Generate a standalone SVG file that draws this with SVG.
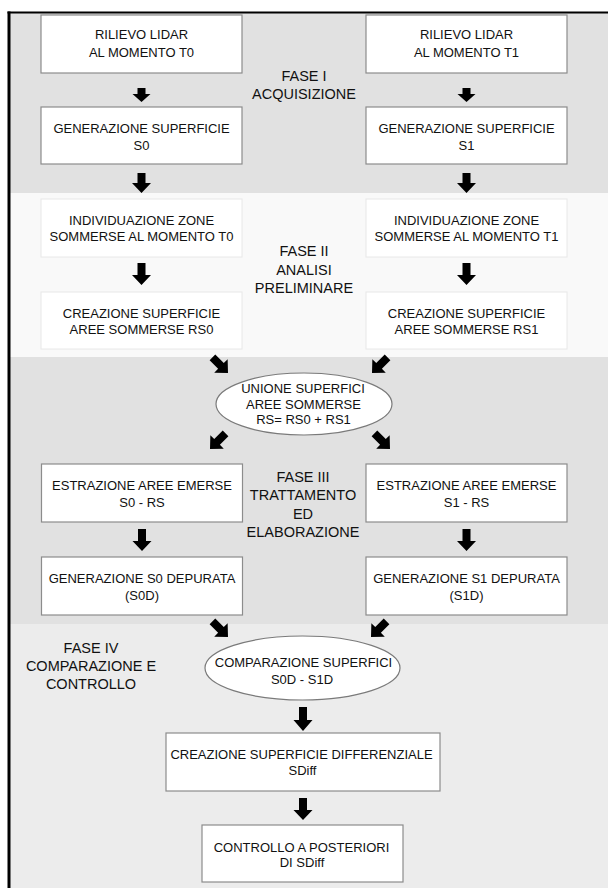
<svg xmlns="http://www.w3.org/2000/svg" width="608" height="888" viewBox="0 0 608 888">
<style>
.box{fill:#fff;stroke:#8c8c8c;stroke-width:1.2}
.boxl{fill:#fff;stroke:#e8e8e8;stroke-width:1}
.ell{fill:#fff;stroke:#7a7a7a;stroke-width:1.2}
text{font-family:"Liberation Sans",Arial,Helvetica,sans-serif;font-size:13px;fill:#111;text-anchor:middle}
.ph{font-size:14.5px}
.arr{fill:#000}
</style>
<defs>
<path id="ad" d="M-4,-22H4V-10H9.5L0,0L-9.5,-10H-4Z"/>
</defs>
<rect x="0" y="0" width="608" height="888" fill="#fff"/>
<g id="bands">
<rect x="10" y="13" width="598" height="180" fill="#e1e1e1"/>
<rect x="10" y="193" width="598" height="164" fill="#f9f9f9"/>
<rect x="10" y="357" width="598" height="267" fill="#e1e1e1"/>
<rect x="10" y="624" width="598" height="264" fill="#ececec"/>
<line x1="9" y1="11.5" x2="9" y2="888" stroke="#000" stroke-width="3"/>
<line x1="7.5" y1="12.5" x2="608" y2="12.5" stroke="#000" stroke-width="2"/>
</g>
<g id="phase-labels">
<text class="ph" x="304" y="81">FASE I</text>
<text class="ph" x="304" y="98.5">ACQUISIZIONE</text>
<text class="ph" x="304" y="256">FASE II</text>
<text class="ph" x="304" y="274.5">ANALISI</text>
<text class="ph" x="304" y="293">PRELIMINARE</text>
<text class="ph" x="303" y="482">FASE III</text>
<text class="ph" x="303" y="500">TRATTAMENTO</text>
<text class="ph" x="303" y="519">ED</text>
<text class="ph" x="303" y="537">ELABORAZIONE</text>
<text class="ph" x="91" y="653">FASE IV</text>
<text class="ph" x="91" y="671">COMPARAZIONE E</text>
<text class="ph" x="91" y="689">CONTROLLO</text>
</g>
<g id="n-rilievo-t0"><rect class="box" x="41" y="15" width="201" height="58"/><text x="141.5" y="39">RILIEVO LIDAR</text><text x="141.5" y="57">AL MOMENTO T0</text></g>
<g id="n-rilievo-t1"><rect class="box" x="366" y="15" width="201" height="58"/><text x="466.5" y="39">RILIEVO LIDAR</text><text x="466.5" y="57">AL MOMENTO T1</text></g>
<g id="n-gen-s0"><rect class="box" x="41" y="107" width="201" height="57"/><text x="141.5" y="132.5">GENERAZIONE SUPERFICIE</text><text x="141.5" y="149.5">S0</text></g>
<g id="n-gen-s1"><rect class="box" x="366" y="107" width="201" height="57"/><text x="466.5" y="132.5">GENERAZIONE SUPERFICIE</text><text x="466.5" y="149.5">S1</text></g>
<g id="n-ind-t0"><rect class="boxl" x="41" y="199" width="201" height="58"/><text x="141.5" y="225">INDIVIDUAZIONE ZONE</text><text x="141.5" y="240.5">SOMMERSE AL MOMENTO T0</text></g>
<g id="n-ind-t1"><rect class="boxl" x="366" y="199" width="201" height="58"/><text x="466.5" y="225">INDIVIDUAZIONE ZONE</text><text x="466.5" y="240.5">SOMMERSE AL MOMENTO T1</text></g>
<g id="n-rs0"><rect class="boxl" x="41" y="292" width="201" height="57"/><text x="141.5" y="318">CREAZIONE SUPERFICIE</text><text x="141.5" y="333.5">AREE SOMMERSE RS0</text></g>
<g id="n-rs1"><rect class="boxl" x="366" y="292" width="201" height="57"/><text x="466.5" y="318">CREAZIONE SUPERFICIE</text><text x="466.5" y="333.5">AREE SOMMERSE RS1</text></g>
<g id="n-unione"><ellipse class="ell" cx="304" cy="404" rx="88" ry="31"/><text x="303" y="393">UNIONE SUPERFICI</text><text x="303.5" y="408.5">AREE SOMMERSE</text><text x="303.5" y="423.5">RS= RS0 + RS1</text></g>
<g id="n-estr-s0"><rect class="box" x="41.5" y="464" width="201" height="58"/><text x="142" y="490">ESTRAZIONE AREE EMERSE</text><text x="142" y="507">S0 - RS</text></g>
<g id="n-estr-s1"><rect class="box" x="366" y="464" width="201" height="58"/><text x="466.5" y="490">ESTRAZIONE AREE EMERSE</text><text x="466.5" y="507">S1 - RS</text></g>
<g id="n-dep-s0"><rect class="box" x="41.5" y="557" width="201" height="58"/><text x="142" y="583">GENERAZIONE S0 DEPURATA</text><text x="142" y="599.5">(S0D)</text></g>
<g id="n-dep-s1"><rect class="box" x="366" y="557" width="201" height="58"/><text x="466.5" y="583">GENERAZIONE S1 DEPURATA</text><text x="466.5" y="599.5">(S1D)</text></g>
<g id="n-comparazione"><ellipse class="ell" cx="302.5" cy="668" rx="97.5" ry="32"/><text x="303.5" y="667">COMPARAZIONE SUPERFICI</text><text x="302" y="684">S0D - S1D</text></g>
<g id="n-sdiff"><rect class="box" x="166" y="733" width="274" height="58"/><text x="301.5" y="759">CREAZIONE SUPERFICIE DIFFERENZIALE</text><text x="302.5" y="775">SDiff</text></g>
<g id="n-controllo"><rect class="box" x="202" y="825" width="201" height="57"/><text x="301.5" y="852">CONTROLLO A POSTERIORI</text><text x="302" y="867">DI SDiff</text></g>
<g id="connectors" class="arr">
<path d="M137.5,88H145.5V94H150.5L141.5,102L132.5,94H137.5Z"/>
<path d="M462.5,88H470.5V94H475.5L466.5,102L457.5,94H462.5Z"/>
<path d="M137.5,173H145.5V183H151L141.5,193L132,183H137.5Z"/>
<path d="M462.5,173H470.5V183H476L466.5,193L457,183H462.5Z"/>
<path d="M137.5,263H145.5V275H151L141.5,285L132,275H137.5Z"/>
<path d="M462.5,263H470.5V275H476L466.5,285L457,275H462.5Z"/>
<path d="M138,529H146V541H151.5L142,551L132.5,541H138Z"/>
<path d="M462.5,529H470.5V541H476L466.5,551L457,541H462.5Z"/>
<path d="M299,707H307V720H312.5L303,731L293.5,720H299Z"/>
<path d="M299,798H307V810H312.5L303,820L293.5,810H299Z"/>
<use href="#ad" transform="translate(228,373) rotate(-45)"/>
<use href="#ad" transform="translate(372,373) rotate(45)"/>
<use href="#ad" transform="translate(210,449) rotate(45)"/>
<use href="#ad" transform="translate(390,449) rotate(-45)"/>
<use href="#ad" transform="translate(228,637) rotate(-45)"/>
<use href="#ad" transform="translate(371,637) rotate(45)"/>
</g>
</svg>
